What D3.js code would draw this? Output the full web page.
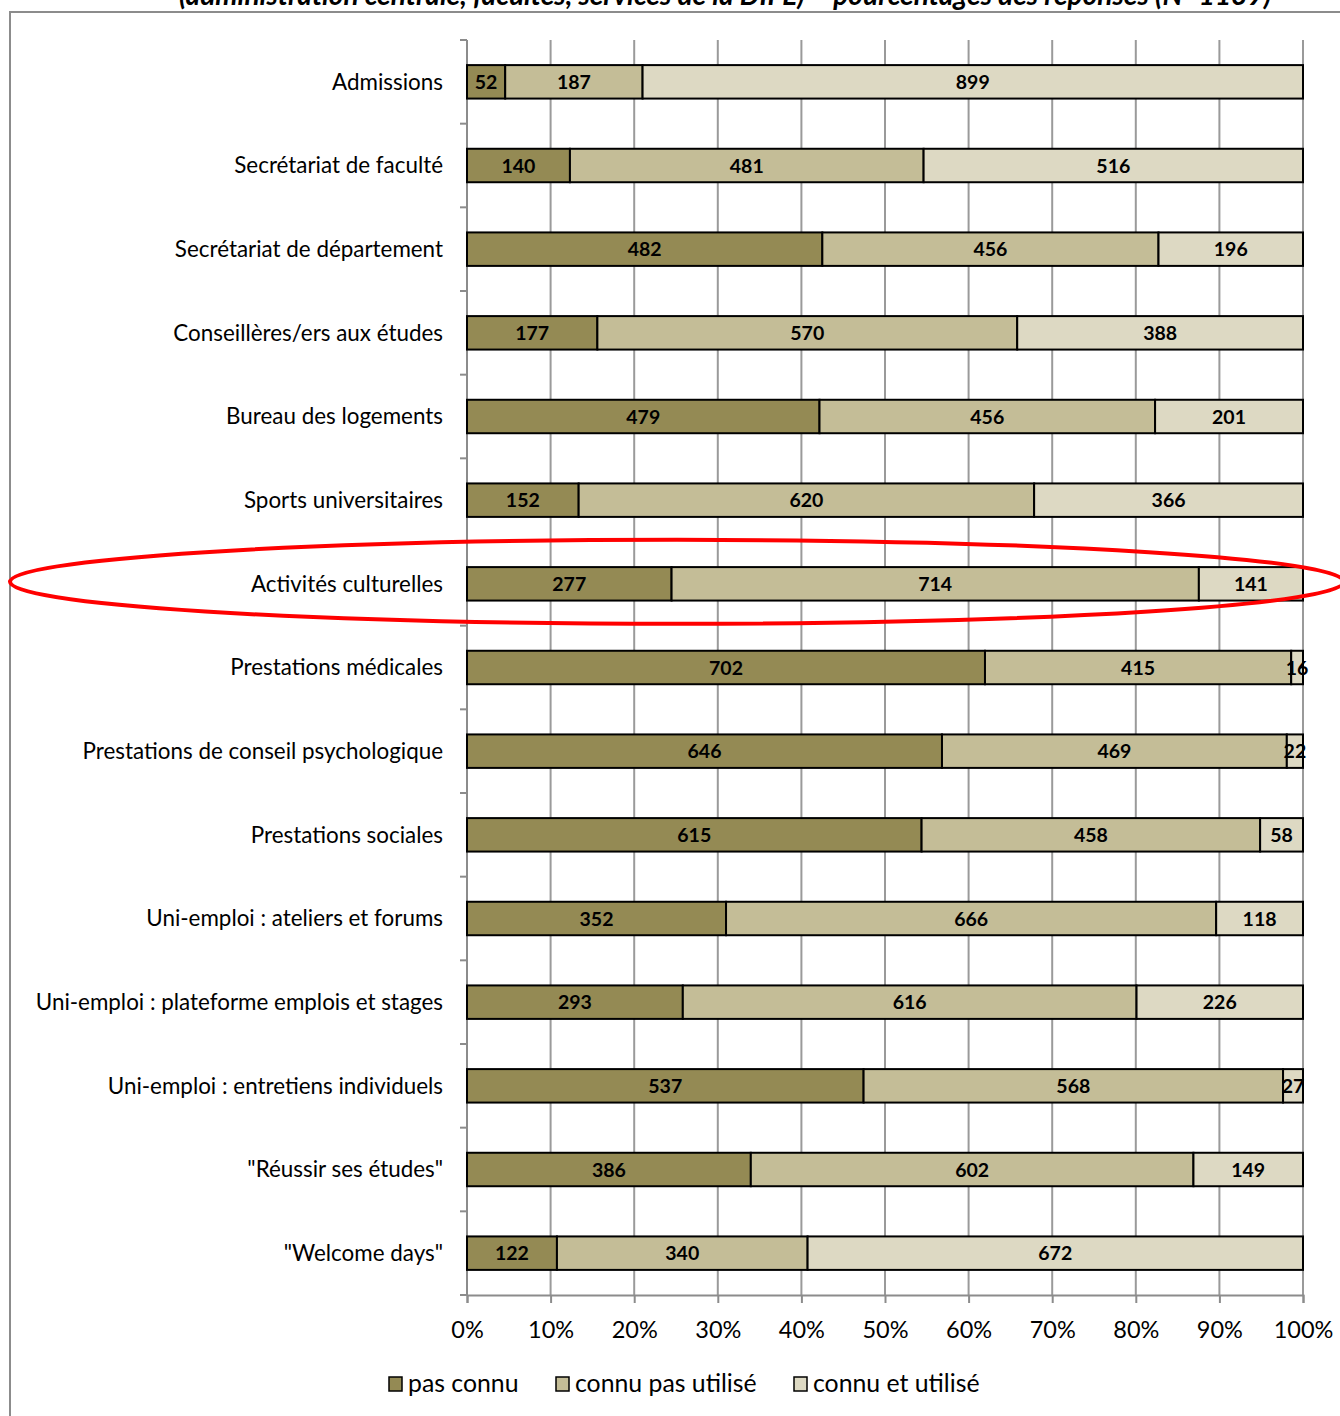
<!DOCTYPE html>
<html><head><meta charset="utf-8">
<script src="https://cdn.jsdelivr.net/npm/d3@7"></script>
<style>
body{margin:0;background:#fff;}
svg{display:block;font-family:Lato,"Open Sans",sans-serif;}
</style></head>
<body>
<svg id="chart" width="1340" height="1416"></svg>
<script>
const categories = ["Admissions","Secrétariat de faculté","Secrétariat de département","Conseillères/ers aux études","Bureau des logements","Sports universitaires","Activités culturelles","Prestations médicales","Prestations de conseil psychologique","Prestations sociales","Uni-emploi : ateliers et forums","Uni-emploi : plateforme emplois et stages","Uni-emploi : entretiens individuels","\"Réussir ses études\"","\"Welcome days\""];
const pasConnu = [52,140,482,177,479,152,277,702,646,615,352,293,537,386,122];
const connuPasUtilise = [187,481,456,570,456,620,714,415,469,458,666,616,568,602,340];
const connuEtUtilise = [899,516,196,388,201,366,141,16,22,58,118,226,27,149,672];
const seriesNames = ["pas connu","connu pas utilisé","connu et utilisé"];
const seriesColors = ["#948A54","#C4BD97","#DDD9C3"];
const xTicks = [0,0.1,0.2,0.3,0.4,0.5,0.6,0.7,0.8,0.9,1];
const titleText = "(administration centrale, facultés, services de la DIFE) – pourcentages des réponses (N=1139)";
const highlighted = "Activités culturelles";

const svg = d3.select("#chart");
const pLeft = 467, pRight = 1303, pTop = 40, pBottom = 1295;

// frame and title (title is cropped at the top edge, as in the reference)
svg.append("text").attr("x",725).attr("y",5).attr("text-anchor","middle")
  .attr("font-size",28).attr("font-style","italic").attr("font-weight","bold").attr("fill","#000").text(titleText);
svg.append("path").attr("d","M10,1416V12H1340").attr("fill","none").attr("stroke","#8c8c8c").attr("stroke-width",2);

const x = d3.scaleLinear().domain([0,1]).range([pLeft,pRight]);
const y = d3.scaleBand().domain(categories).range([pTop,pBottom]).paddingInner(0.6).paddingOuter(0.3);
const yb = d3.scaleBand().domain(categories).range([pTop,pBottom]);

// gridlines
svg.append("g").selectAll("line").data(xTicks.slice(1)).join("line")
  .attr("x1",d=>x(d)).attr("x2",d=>x(d)).attr("y1",pTop).attr("y2",pBottom)
  .attr("stroke","#9a9a9a").attr("stroke-width",2);

// y axis
const yAxisG = svg.append("g");
yAxisG.append("line").attr("x1",pLeft).attr("x2",pLeft).attr("y1",pTop).attr("y2",pBottom).attr("stroke","#8c8c8c").attr("stroke-width",2);
yAxisG.selectAll(".yt").data(categories.concat(["__end"])).join("line")
  .attr("x1",pLeft-7).attr("x2",pLeft)
  .attr("y1",(d,i)=> i<categories.length ? yb(d) : pBottom)
  .attr("y2",(d,i)=> i<categories.length ? yb(d) : pBottom)
  .attr("stroke","#8c8c8c").attr("stroke-width",2);
yAxisG.selectAll("text").data(categories).join("text")
  .attr("x",443).attr("y",d=>y(d)+y.bandwidth()/2).attr("dy","0.35em")
  .attr("text-anchor","end").attr("font-size",22.4).attr("fill","#000").text(d=>d);

// x axis
const xAxis = d3.axisBottom(x).tickValues(xTicks).tickFormat(d3.format(".0%")).tickSize(8).tickPadding(18);
const xg = svg.append("g").attr("transform",`translate(0,${pBottom})`).call(xAxis);
xg.select(".domain").attr("stroke","#8c8c8c").attr("stroke-width",2);
xg.selectAll(".tick line").attr("stroke","#8c8c8c").attr("stroke-width",2);
xg.selectAll(".tick text").attr("font-size",23.5).attr("fill","#000").attr("font-family","Lato,sans-serif");

// bars
const rows = categories.map((c,i)=>({cat:c, vals:[pasConnu[i],connuPasUtilise[i],connuEtUtilise[i]]}));
const segs = [];
rows.forEach(r=>{
  const tot = d3.sum(r.vals); let acc=0;
  r.vals.forEach((v,k)=>{ segs.push({cat:r.cat,k,v,x0:acc/tot,x1:(acc+v)/tot}); acc+=v; });
});
const bars = svg.append("g");
bars.selectAll("rect").data(segs).join("rect")
  .attr("x",d=>x(d.x0)).attr("width",d=>x(d.x1)-x(d.x0))
  .attr("y",d=>y(d.cat)).attr("height",y.bandwidth())
  .attr("fill",d=>seriesColors[d.k]).attr("stroke","#000").attr("stroke-width",2);
bars.selectAll("text").data(segs).join("text")
  .attr("x",d=>(x(d.x0)+x(d.x1))/2).attr("y",d=>y(d.cat)+y.bandwidth()/2).attr("dy","0.36em")
  .attr("text-anchor","middle").attr("font-size",19.5).attr("font-weight","bold").attr("fill","#000")
  .text(d=>d.v);

// legend
const legendX = [389,556,794];
const lg = svg.append("g");
seriesNames.forEach((n,k)=>{
  lg.append("rect").attr("x",legendX[k]).attr("y",1377).attr("width",13).attr("height",14)
    .attr("fill",seriesColors[k]).attr("stroke","#000").attr("stroke-width",1.5);
  lg.append("text").attr("x",legendX[k]+19).attr("y",1392).attr("font-size",24.8).attr("fill","#000").text(n);
});

// highlight ellipse
const cy = y(highlighted)+y.bandwidth()/2;
svg.append("ellipse").attr("cx",677).attr("cy",cy-2).attr("rx",667).attr("ry",42)
  .attr("fill","none").attr("stroke","#ff0000").attr("stroke-width",4);
</script>
</body></html>
